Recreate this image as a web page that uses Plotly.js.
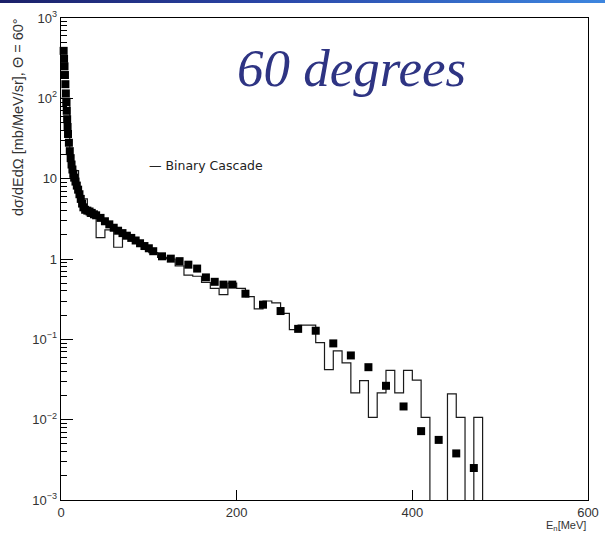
<!DOCTYPE html>
<html>
<head>
<meta charset="utf-8">
<script src="https://cdn.plot.ly/plotly-3.0.1.min.js"></script>
<style>
  html, body { margin: 0; padding: 0; background: #fff; overflow: hidden; }
  #topbar { position: absolute; left: 0; top: 0; width: 605px; height: 3px; z-index: 5;
            background: linear-gradient(to right, #1b2068 0%, #2a46a8 45%, #3d86df 100%); }
  #chart { position: absolute; left: 0; top: 0; width: 605px; height: 534px; }
</style>
</head>
<body>
<div id="topbar"></div>
<div id="chart"></div>
<script>
// Measured neutron yield, d2sigma/dE dOmega at 60 degrees [mb/MeV/sr]
const dataE = [3, 3.5, 4, 4.5, 5, 5.5, 6, 6.5, 7, 7.5, 8, 9, 10, 11, 12, 13, 14, 15, 16.5, 18,
               19.5, 21, 22.5, 24, 25.5, 27.5, 30, 32.5, 35, 37.5, 40, 45, 50, 55, 60, 65, 70, 75,
               80, 85, 90, 95, 100, 105, 115, 125, 135, 145, 155, 165, 175, 185, 195, 210, 230,
               250, 270, 290, 310, 330, 350, 370, 390, 410, 430, 450, 470];
const dataY = [390, 310, 250, 195, 150, 115, 90, 70, 55, 44, 36, 28, 22, 18, 15, 13, 11.5, 10.3, 9.2, 8.2,
               7.3, 6.4, 5.6, 4.9, 4.4, 4.1, 4.0, 3.9, 3.75, 3.6, 3.5, 3.25, 2.95, 2.7, 2.45, 2.25, 2.1, 1.95,
               1.83, 1.7, 1.57, 1.45, 1.36, 1.25, 1.08, 1.01, 0.94, 0.85, 0.76, 0.59, 0.52, 0.48, 0.48, 0.37, 0.27,
               0.225, 0.135, 0.128, 0.089, 0.063, 0.045, 0.0264, 0.0146, 0.0072, 0.0056, 0.0038, 0.0025];

// Binary Cascade histogram: lower bin edges [MeV] and bin contents
const binLow = [0, 10, 20, 30, 40, 50, 60, 70, 80, 90, 100, 110, 120, 130, 140, 150, 160, 170, 180, 190,
                200, 210, 220, 230, 240, 250, 260, 270, 280, 290, 300, 310, 320, 330, 340, 350, 360, 370,
                380, 390, 400, 410, 420, 430, 440, 450, 460, 470];
const binHigh = 480;
const binVal = [100, 12.6, 5.6, 3.4, 1.85, 2.3, 1.4, 1.95, 1.7, 1.45, 1.2, 1.05, 1.0, 0.82, 0.63, 0.61, 0.51, 0.43,
                0.36, 0.50, 0.43, 0.34, 0.24, 0.30, 0.285, 0.21, 0.132, 0.15, 0.15, 0.091, 0.042, 0.072, 0.051,
                0.0215, 0.0306, 0.0107, 0.0215, 0.041, 0.0215, 0.041, 0.031, 0.0107, 0, 0, 0.021, 0.0107, 0, 0.0107];

// Log-axis decorations
const yTickVals = [1e-3, 1e-2, 1e-1, 1, 10, 100, 1000];
const yTickText = ['10<sup>−3</sup>', '10<sup>−2</sup>', '10<sup>−1</sup>', '1', '10', '10<sup>2</sup>', '10<sup>3</sup>'];
const xTickVals = [0, 200, 400, 600];
const xTickText = ['0', '200', '400', '600'];

// empty bins drop to below the frame, as a log axis cannot show zero
const FLOOR = 1e-4;
const histX = binLow.concat([binHigh, binHigh]);
const histY = binVal.map(v => (v > 0 ? v : FLOOR))
                    .concat([binVal[binVal.length - 1] > 0 ? binVal[binVal.length - 1] : FLOOR, FLOOR]);

// minor ticks 2..9 in every decade
const minorVals = [];
for (let d = -3; d < 3; d++) {
  for (let m = 2; m <= 9; m++) minorVals.push(m * Math.pow(10, d));
}

const W = 605, H = 534;
const M = { l: 61, r: 17, t: 18, b: 34 };
const PW = W - M.l - M.r, PH = H - M.t - M.b;
const px2xp = p => (p - M.l) / PW;
const py2yp = p => (H - M.b - p) / PH;

const font = 'Liberation Sans, Arial, sans-serif';

const traces = [
  {
    type: 'scatter', mode: 'lines', x: histX, y: histY,
    line: { shape: 'hv', color: '#1a1a1a', width: 1.2 },
    hoverinfo: 'skip', showlegend: false
  },
  {
    type: 'scatter', mode: 'markers', x: dataE, y: dataY,
    marker: { symbol: 'square', size: 8, color: '#000' },
    cliponaxis: false, showlegend: false
  }
];

const layout = {
  width: W, height: H,
  margin: M,
  paper_bgcolor: '#fff', plot_bgcolor: '#fff',
  showlegend: false,
  xaxis: {
    range: [0, 600], tickmode: 'array', tickvals: xTickVals, ticktext: xTickText,
    ticks: 'inside', ticklen: 10, tickwidth: 1, tickcolor: '#000',
    showline: true, mirror: true, linecolor: '#000', linewidth: 1.3,
    showgrid: false, zeroline: false,
    tickfont: { family: font, size: 13, color: '#333' }
  },
  yaxis: {
    type: 'log', range: [-3, 3], tickmode: 'array', tickvals: yTickVals, ticktext: yTickText,
    ticks: 'inside', ticklen: 12, tickwidth: 1, tickcolor: '#000',
    minor: { tickmode: 'array', tickvals: minorVals, ticks: 'inside', ticklen: 6, tickcolor: '#000', showgrid: false },
    showline: true, mirror: true, linecolor: '#000', linewidth: 1.3,
    showgrid: false, zeroline: false,
    tickfont: { family: font, size: 13, color: '#333' }
  },
  annotations: [
    {
      text: '60 degrees', xref: 'paper', yref: 'paper',
      x: px2xp(351), y: py2yp(68), xanchor: 'center', yanchor: 'middle', showarrow: false,
      font: { family: 'Liberation Serif, serif', size: 53, color: '#2e3483', style: 'italic' }
    },
    {
      text: '— Binary Cascade', xref: 'paper', yref: 'paper',
      x: px2xp(147), y: py2yp(165), xanchor: 'left', yanchor: 'middle', showarrow: false,
      font: { family: 'DejaVu Sans, sans-serif', size: 12.5, color: '#222' }
    },
    {
      text: 'dσ/dEdΩ [mb/MeV/sr], Θ = 60°', xref: 'paper', yref: 'paper', textangle: -90,
      x: px2xp(18), y: py2yp(117), xanchor: 'center', yanchor: 'middle', showarrow: false,
      font: { family: font, size: 14.5, color: '#333' }
    },
    {
      text: 'E<sub>n</sub>[MeV]', xref: 'paper', yref: 'paper',
      x: 1, y: py2yp(526), xanchor: 'right', yanchor: 'middle', showarrow: false,
      font: { family: font, size: 11, color: '#333' }
    }
  ]
};

Plotly.newPlot('chart', traces, layout, { staticPlot: true, displayModeBar: false });
</script>
</body>
</html>
